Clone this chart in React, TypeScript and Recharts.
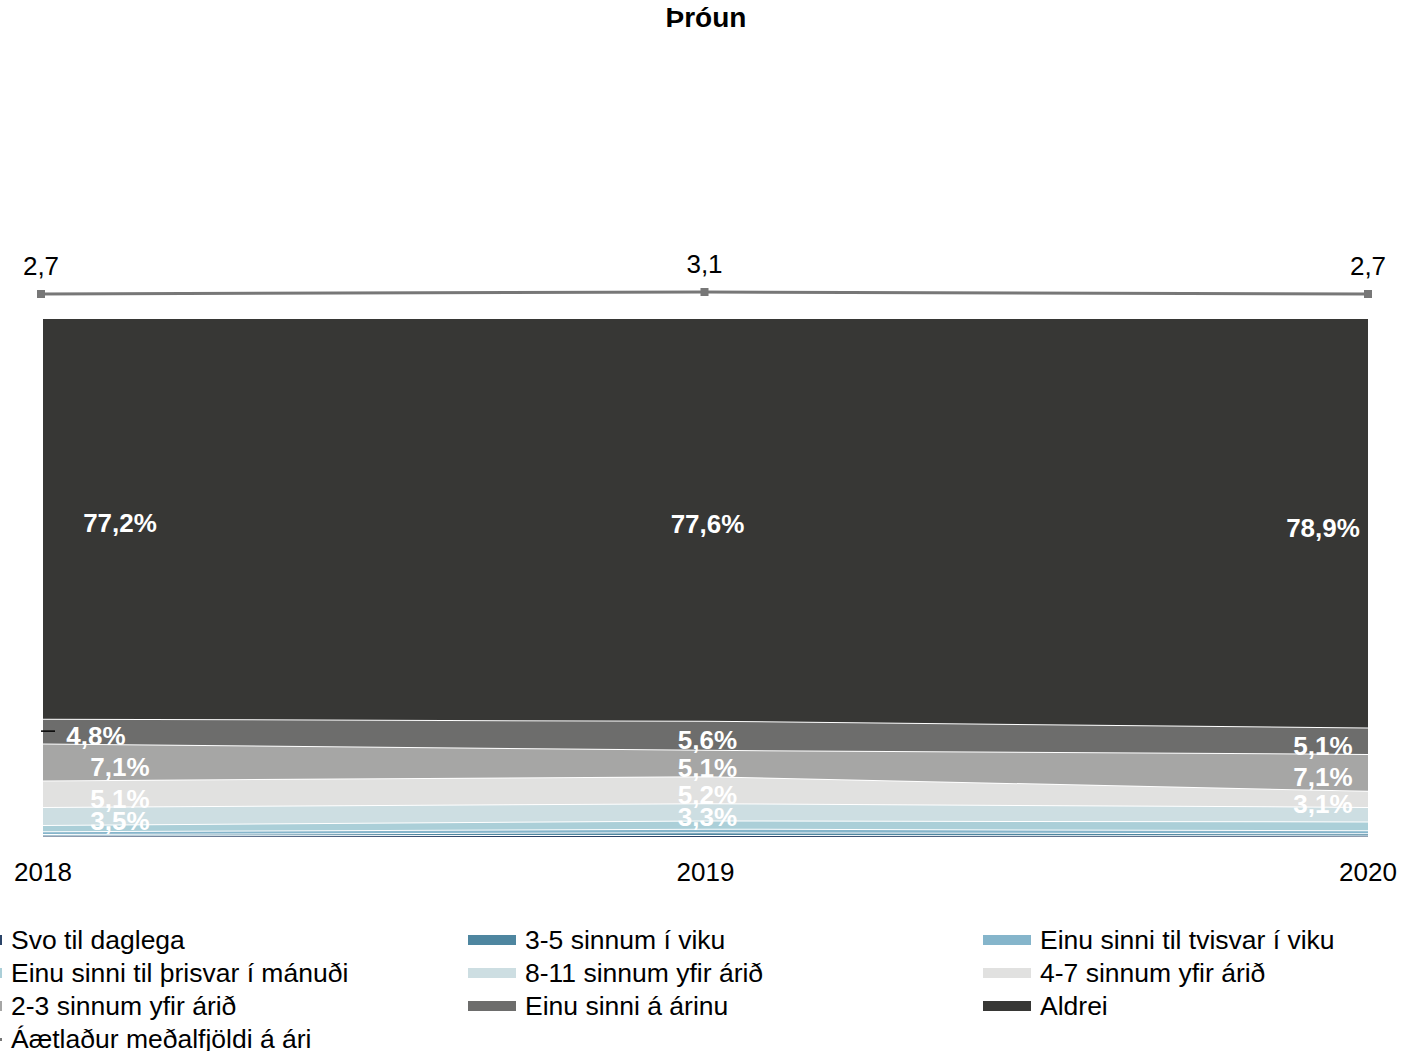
import React from 'react';
import { AreaChart, Area, LineChart, Line, XAxis, YAxis, LabelList } from 'recharts';

// values (percent of respondents per year)
const years = ['2018', '2019', '2020'];
const svoTilDaglega = [0.3, 0.4, 0.3];
const threeToFiveWeek = [0.3, 0.5, 0.4];
const onceTwiceWeek = [0.5, 0.7, 0.6];
const onceThriceMonth = [1.2, 1.6, 1.7];
const eightToElevenYear = [3.5, 3.3, 2.8];
const fourToSevenYear = [5.1, 5.2, 3.1];
const twoToThreeYear = [7.1, 5.1, 7.1];
const oncePerYear = [4.8, 5.6, 5.1];
const never = [77.2, 77.6, 78.9];
const avgPerYear = [2.7, 3.1, 2.7];

const series = [
  { key: 's1', name: 'Svo til daglega', color: '#2b4468', values: svoTilDaglega },
  { key: 's2', name: '3-5 sinnum í viku', color: '#4e86a0', values: threeToFiveWeek },
  { key: 's3', name: 'Einu sinni til tvisvar í viku', color: '#85b5cb', values: onceTwiceWeek },
  { key: 's4', name: 'Einu sinni til þrisvar í mánuði', color: '#abcfd8', values: onceThriceMonth },
  { key: 's5', name: '8-11 sinnum yfir árið', color: '#cddee2', values: eightToElevenYear },
  { key: 's6', name: '4-7 sinnum yfir árið', color: '#e1e1e0', values: fourToSevenYear },
  { key: 's7', name: '2-3 sinnum yfir árið', color: '#a6a6a5', values: twoToThreeYear },
  { key: 's8', name: 'Einu sinni á árinu', color: '#6d6d6c', values: oncePerYear },
  { key: 's9', name: 'Aldrei', color: '#373735', values: never },
];
const lineName = 'Áætlaður meðalfjöldi á ári';
const lineColor = '#777777';

const data = years.map((year, i) => {
  const row: Record<string, number | string> = { year, avg: avgPerYear[i] };
  series.forEach((s) => (row[s.key] = s.values[i]));
  return row;
});

const FONT = '"Liberation Sans", Arial, sans-serif';
const W = 1424;
const AREA_H = 900;
const PLOT_TOP = 318;
const PLOT_BOTTOM = 837;
const X_AXIS_H = 40;
const PX_PER_PCT = (PLOT_BOTTOM - PLOT_TOP) / 100;

const fmt = (v: number) => v.toFixed(1).replace('.', ',');

function makeLabel(values: number[], key: string) {
  return (props: any) => {
    const { x, y, index } = props;
    const v = values[index];
    if (v < 3) return null;
    let dx = index === 0 ? 77 : index === 2 ? -45 : 2;
    if (index === 0 && key === 's8') dx = 53;
    const cy = y + (v * PX_PER_PCT) / 2 + 5;
    return (
      <g>
        {index === 0 && key === 's8' && (
          <line x1={x - 2} x2={x + 12} y1={cy - 5} y2={cy - 5} stroke="#000" strokeWidth={1.5} />
        )}
        <text x={x + dx} y={cy} textAnchor="middle" dominantBaseline="central" fill="#fff"
          fontFamily={FONT} fontSize={26} fontWeight="bold">
          {fmt(v)}%
        </text>
      </g>
    );
  };
}

const YearTick = (props: any) => {
  const { x, y, payload } = props;
  return (
    <text x={x} y={y + 27} textAnchor="middle" dominantBaseline="central" fill="#000"
      fontFamily={FONT} fontSize={26}>
      {payload.value}
    </text>
  );
};

const AvgLabel = (props: any) => {
  const { x, y, value } = props;
  return (
    <text x={x} y={y - 28} textAnchor="middle" dominantBaseline="central" fill="#000"
      fontFamily={FONT} fontSize={26}>
      {fmt(value)}
    </text>
  );
};

const legendCols = [11, 525, 1040];

export default function App() {
  const legendItems = [
    ...series.map((s) => ({ name: s.name, color: s.color, line: false })),
    { name: lineName, color: lineColor, line: true },
  ];
  return (
    <div style={{ position: 'absolute', left: 0, top: 0, width: W, height: 1051, background: '#fff', overflow: 'hidden', fontFamily: FONT }}>
      <div style={{ position: 'absolute', left: -6, width: W, top: 2, textAlign: 'center', fontSize: 28, fontWeight: 'bold', color: '#000' }}>
        Þróun
      </div>

      <div style={{ position: 'absolute', left: 0, top: 0 }}>
        <AreaChart width={W} height={AREA_H} data={data}
          margin={{ top: PLOT_TOP, right: W - 1368, left: 43, bottom: AREA_H - PLOT_BOTTOM - X_AXIS_H }}>
          <XAxis dataKey="year" height={X_AXIS_H} axisLine={false} tickLine={false} tick={<YearTick />} interval={0} />
          <YAxis hide domain={[0, 100]} />
          {series.map((s) => (
            <Area key={s.key} type="linear" dataKey={s.key} name={s.name} stackId="a"
              fill={s.color} fillOpacity={1} stroke="#fff" strokeWidth={2} isAnimationActive={false}>
              <LabelList dataKey={s.key} content={makeLabel(s.values, s.key)} />
            </Area>
          ))}
        </AreaChart>
      </div>

      <div style={{ position: 'absolute', left: 0, top: 0 }}>
        <LineChart width={W} height={320} data={data} margin={{ top: 270, right: W - 1368, left: 41, bottom: 10 }}>
          <XAxis dataKey="year" hide />
          <YAxis hide domain={[-0.5, 7.5]} />
          <Line type="linear" dataKey="avg" name={lineName} stroke={lineColor} strokeWidth={3}
            dot={(p: any) => <rect key={p.index} x={p.cx - 4} y={p.cy - 4} width={8} height={8} fill={lineColor} />}
            isAnimationActive={false}>
            <LabelList dataKey="avg" content={AvgLabel} />
          </Line>
        </LineChart>
      </div>

      {legendItems.map((it, i) => {
        const col = i % 3;
        const row = Math.floor(i / 3);
        const tx = legendCols[col];
        const cy = 940 + row * 33;
        return (
          <div key={it.name}>
            {it.line ? (
              <>
                <div style={{ position: 'absolute', left: tx - 57, top: cy - 1.5, width: 48, height: 3, background: it.color }} />
                <div style={{ position: 'absolute', left: tx - 37, top: cy - 4, width: 8, height: 8, background: it.color }} />
              </>
            ) : (
              <div style={{ position: 'absolute', left: tx - 57, top: cy - 5, width: 48, height: 10, background: it.color }} />
            )}
            <div style={{ position: 'absolute', left: tx, top: cy - 16, fontSize: 26.5, lineHeight: '32px', color: '#000', whiteSpace: 'nowrap' }}>
              {it.name}
            </div>
          </div>
        );
      })}
    </div>
  );
}
